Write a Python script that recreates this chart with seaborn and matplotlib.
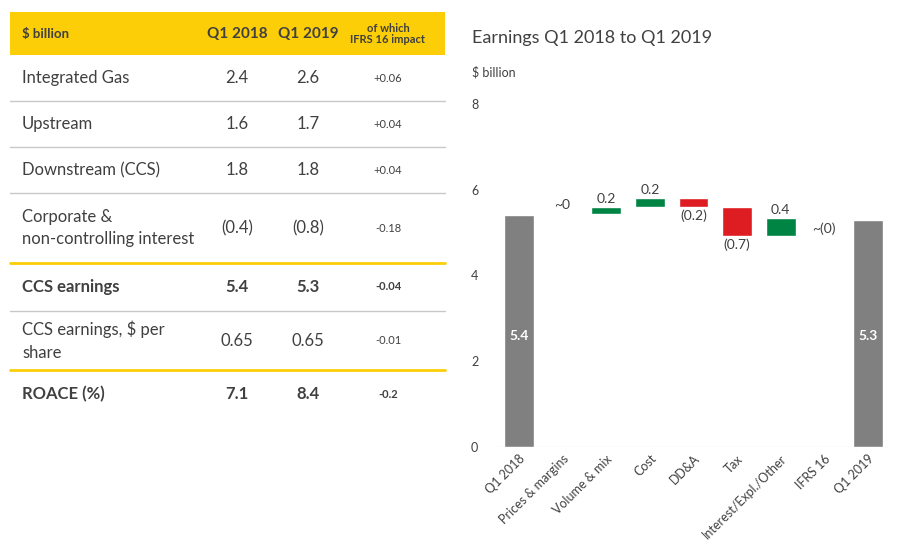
import matplotlib
matplotlib.use("Agg")
import matplotlib.pyplot as plt
import seaborn as sns
import numpy as np

sns.set_theme(style="white")
plt.rcParams['font.family'] = ['Lato', 'DejaVu Sans']

# ---- data ----
categories = ["Q1 2018", "Prices & margins", "Volume & mix", "Cost", "DD&A", "Tax",
              "Interest/Expl./Other", "IFRS 16", "Q1 2019"]
start_value = 5.41
deltas = [0.02, 0.17, 0.21, -0.21, -0.68, 0.42, -0.03]
end_value = 5.30
value_labels = ["5.4", "~0", "0.2", "0.2", "(0.2)", "(0.7)", "0.4", "~(0)", "5.3"]

table_header = ["$ billion", "Q1 2018", "Q1 2019", "of which\nIFRS 16 impact"]
table_rows = [
    ["Integrated Gas", "2.4", "2.6", "+0.06"],
    ["Upstream", "1.6", "1.7", "+0.04"],
    ["Downstream (CCS)", "1.8", "1.8", "+0.04"],
    ["Corporate &\nnon-controlling interest", "(0.4)", "(0.8)", "-0.18"],
    ["CCS earnings", "5.4", "5.3", "-0.04"],
    ["CCS earnings, $ per\nshare", "0.65", "0.65", "-0.01"],
    ["ROACE (%)", "7.1", "8.4", "-0.2"],
]
bold_rows = [4, 6]

W, H = 914, 552
fig = plt.figure(figsize=(W/100, H/100), dpi=100)

def fx(x): return x / W
def fy(y): return 1 - y / H

YELLOW = "#FBCE07"
TXT = "#404040"

# ---- table ----
tbl = fig.add_axes([0, 0, 1, 1]); tbl.axis("off")
tbl.set_xlim(0, W); tbl.set_ylim(H, 0)
tbl.add_patch(plt.Rectangle((10, 12), 435, 43, color=YELLOW, lw=0))
colx = [22, 237, 308, 388]
tbl.text(colx[0], 34, table_header[0], fontsize=9.5, fontweight="bold", color=TXT, va="center")
tbl.text(colx[1], 34, table_header[1], fontsize=11, fontweight="bold", color=TXT, va="center", ha="center")
tbl.text(colx[2], 34, table_header[2], fontsize=11, fontweight="bold", color=TXT, va="center", ha="center")
tbl.text(colx[3], 34, table_header[3], fontsize=8, fontweight="bold", color=TXT, va="center", ha="center", linespacing=1.1)
bounds = [55, 101, 147, 193, 263, 311, 370, 418]
for i, row in enumerate(table_rows):
    yc = (bounds[i] + bounds[i+1]) / 2
    b = "bold" if i in bold_rows else "normal"
    tbl.text(colx[0], yc, row[0], fontsize=12, color=TXT, va="center", fontweight=b, linespacing=1.5)
    tbl.text(colx[1], yc, row[1], fontsize=12, color=TXT, va="center", ha="center", fontweight=b)
    tbl.text(colx[2], yc, row[2], fontsize=12, color=TXT, va="center", ha="center", fontweight=b)
    tbl.text(colx[3], yc, row[3], fontsize=8, color=TXT, va="center", ha="center", fontweight="bold" if i in bold_rows else "normal")
    if i < len(table_rows) - 1:
        nxt = bounds[i+1]
        yellow_line = (i + 1) in (4, 6)
        tbl.plot([10, 445], [nxt, nxt], color=YELLOW if yellow_line else "#c8c8c8",
                 lw=2 if yellow_line else 1)

fig.text(fx(472), fy(38), "Earnings Q1 2018 to Q1 2019", fontsize=13, color=TXT, va="center")
fig.text(fx(472), fy(72), "$ billion", fontsize=9, color=TXT, va="center")

# ---- waterfall ----
ax = fig.add_axes([fx(495), fy(447), fx(892) - fx(495), fy(104) - fy(447)])
levels = [start_value]
for d in deltas:
    levels.append(levels[-1] + d)
bottoms, heights, colors = [0], [start_value], ["#808080"]
for i, d in enumerate(deltas):
    lo = min(levels[i], levels[i+1])
    if abs(d) < 0.05:
        bottoms.append(levels[i+1] - 0.015); heights.append(0.03)
        colors.append("#008443" if d > 0 else "#F4B67E")
    else:
        bottoms.append(lo); heights.append(abs(d))
        colors.append("#008443" if d > 0 else "#DD1D21")
bottoms.append(0); heights.append(end_value); colors.append("#808080")
x = np.arange(len(categories))
ax.bar(x, heights, bottom=bottoms, color=colors, width=0.68)
for i in range(len(categories)):
    if i in (0, len(categories) - 1):
        ax.text(i, 2.6, value_labels[i], ha="center", va="center", color="white",
                fontweight="bold", fontsize=10)
    else:
        d = deltas[i-1]
        if d >= 0:
            ax.text(i, bottoms[i] + heights[i] + 0.05, value_labels[i], ha="center", va="bottom", color=TXT, fontsize=10)
        else:
            ax.text(i, bottoms[i] - 0.05, value_labels[i], ha="center", va="top", color=TXT, fontsize=10)
ax.set_ylim(0, 8)
ax.set_xlim(-0.55, len(categories) - 0.45)
ax.set_yticks([0, 2, 4, 6, 8])
ax.set_xticks(x)
ax.set_xticklabels(categories, rotation=45, ha="right", rotation_mode="anchor", fontsize=9, color=TXT)
ax.tick_params(axis="y", labelsize=9, labelcolor=TXT, pad=12, length=0)
ax.tick_params(axis="x", length=0, pad=4)
sns.despine(ax=ax, left=True, bottom=True)
ax.axhline(0, color="#cccccc", lw=0.8)

fig.savefig("out.png", dpi=100)
